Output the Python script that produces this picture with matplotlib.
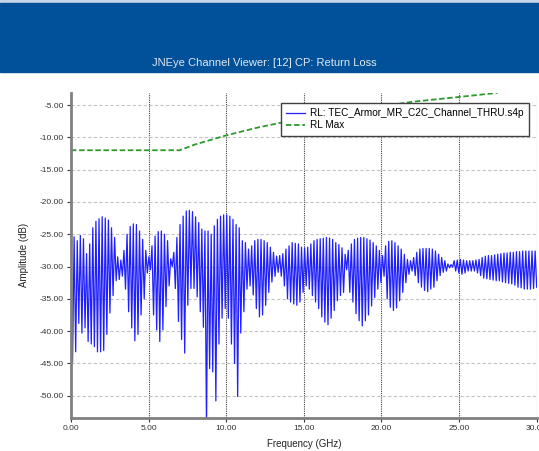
import numpy as np
import matplotlib
matplotlib.use("Agg")
import matplotlib.pyplot as plt
from matplotlib.patches import Rectangle
from matplotlib.ticker import FormatStrFormatter

plt.rcParams['font.family'] = ['Liberation Sans', 'DejaVu Sans']

# return loss trace, alternating peak / dip, 10 values per GHz
rl_db = [
    -25.8, -44.8, -25.4, -43.2, -26.0, -38.8, -25.2, -40.3, -25.7, -39.5,   # 0 GHz
    -28.0, -41.6, -26.5, -42.0, -24.0, -42.4, -23.0, -43.2, -22.6, -43.2,   # 1
    -22.3, -43.0, -22.5, -40.5, -22.8, -37.2, -24.0, -34.5, -25.5, -32.2,   # 2
    -28.5, -32.0, -29.0, -31.5, -27.5, -33.5, -25.0, -37.0, -23.8, -39.5,   # 3
    -23.4, -41.5, -23.5, -40.5, -24.5, -37.5, -25.8, -35.0, -27.5, -31.0,   # 4
    -28.5, -30.5, -26.8, -37.5, -25.3, -39.8, -24.6, -41.6, -24.5, -39.8,   # 5
    -25.0, -36.2, -26.0, -33.0, -28.8, -30.0, -27.8, -33.4, -25.5, -38.5,   # 6
    -23.5, -41.3, -22.2, -43.4, -21.4, -36.0, -21.3, -33.4, -21.5, -33.4,   # 7
    -22.3, -34.7, -23.2, -37.0, -24.2, -39.4, -24.5, -55.0, -24.5, -45.8,   # 8
    -25.0, -46.3, -23.7, -50.8, -22.7, -42.0, -22.2, -38.0, -22.0, -36.5,   # 9
    -22.0, -38.0, -22.2, -42.0, -22.7, -45.0, -23.5, -50.1, -24.0, -40.3,   # 10
    -26.0, -37.0, -26.3, -33.5, -27.3, -33.0, -26.8, -34.4, -26.0, -36.5,   # 11
    -25.8, -37.8, -25.8, -37.5, -26.0, -36.0, -26.3, -34.0, -27.0, -32.4,   # 12
    -27.8, -31.5, -28.4, -30.9, -28.3, -31.5, -28.0, -33.0, -27.3, -35.0,   # 13
    -26.8, -35.5, -26.3, -35.8, -26.4, -36.0, -26.5, -35.5, -27.0, -34.0,   # 14
    -27.1, -33.0, -27.0, -33.5, -26.5, -34.5, -26.0, -35.5, -25.8, -36.5,   # 15
    -25.7, -37.8, -25.6, -38.6, -25.5, -39.0, -25.6, -38.0, -25.8, -36.8,   # 16
    -26.3, -35.3, -26.6, -34.5, -27.1, -34.0, -28.1, -30.5, -27.5, -34.0,   # 17
    -26.5, -35.5, -25.8, -37.3, -25.6, -38.4, -25.5, -39.2, -25.5, -38.4,   # 18
    -25.7, -37.5, -25.9, -36.1, -26.3, -34.8, -26.8, -33.5, -27.5, -32.5,   # 19
    -28.3, -31.5, -26.8, -35.0, -26.1, -36.3, -26.0, -36.8, -26.3, -36.4,   # 20
    -26.8, -35.3, -27.3, -34.0, -28.1, -32.5, -28.9, -31.2, -29.1, -30.7,   # 21
    -28.6, -31.4, -27.8, -32.5, -27.3, -33.2, -27.2, -33.7, -27.2, -33.9,   # 22
    -27.2, -33.5, -27.3, -33.2, -27.6, -32.2, -28.1, -31.4, -28.6, -30.9,   # 23
    -29.1, -30.7, -29.6, -30.2, -29.7, -30.1, -29.1, -30.7, -29.0, -31.0,   # 24
    -28.9, -31.2, -29.0, -31.0, -29.1, -30.7, -29.1, -30.7, -29.1, -30.7,   # 25
    -29.0, -31.0, -28.9, -31.4, -28.6, -31.8, -28.4, -31.9, -28.3, -32.0,   # 26
    -28.3, -32.1, -28.2, -32.2, -28.1, -32.2, -28.0, -32.4, -27.9, -32.5,   # 27
    -27.9, -32.6, -27.8, -32.7, -27.8, -32.9, -27.7, -33.2, -27.7, -33.3,   # 28
    -27.6, -33.5, -27.6, -33.5, -27.6, -33.5, -27.6, -33.4, -27.6, -33.2,   # 29
]
rl_freq = np.linspace(0, 30, len(rl_db))   # sweep points in GHz

# return loss limit mask
rl_max_freq = [0, 7, 8, 9, 10, 12, 14, 16, 18, 20, 22, 24, 26, 27.5]
rl_max_db = [-12, -12, -11.1, -10.4, -9.7, -8.5, -7.5, -6.6, -5.8, -5.2, -4.5, -4.0, -3.5, -3.1]

x_ticks = [0, 5, 10, 15, 20, 25, 30]
y_ticks = [-5, -10, -15, -20, -25, -30, -35, -40, -45, -50]

W, H = 539, 451
fig = plt.figure(figsize=(W / 100, H / 100), dpi=100)

# window header band
fig.add_artist(Rectangle((0, (H - 3) / H), 1, 3 / H, transform=fig.transFigure,
                         color='#c6d6e8', zorder=0))
fig.add_artist(Rectangle((0, (H - 72) / H), 1, 69 / H, transform=fig.transFigure,
                         color='#00519a', zorder=0))
fig.text(264.5 / W, (H - 63.5) / H, "JNEye Channel Viewer: [12] CP: Return Loss",
         ha='center', va='center', color='#e4e8ee', fontsize=8)

ax = fig.add_axes([71 / W, (H - 417.7) / H, (536.7 - 71) / W, (417.7 - 93) / H])

ax.plot(rl_freq, rl_db, color='#1f1fff', lw=0.9,
        label="RL: TEC_Armor_MR_C2C_Channel_THRU.s4p")
ax.plot(rl_max_freq, rl_max_db, color='#2a9a2a', lw=1.3, ls=(0, (3, 1.5)),
        label="RL Max")

ax.set_xlim(0, 30)
ax.set_ylim(-53.4, -3.14)
ax.set_xticks(x_ticks)
ax.set_yticks(y_ticks)
ax.xaxis.set_major_formatter(FormatStrFormatter('%.2f'))
ax.yaxis.set_major_formatter(FormatStrFormatter('%.2f'))
ax.tick_params(labelsize=6, colors='#333333', length=3, width=0.8, pad=2)

# grid: dotted verticals, light dashed horizontals
ax.xaxis.grid(True, color='#404040', lw=0.8, ls=(0, (1, 1)))
ax.yaxis.grid(True, color='#c4c4c4', lw=0.8, ls=(0, (3, 2)))
ax.set_axisbelow(True)

for s in ['top', 'right']:
    ax.spines[s].set_visible(False)
for s in ['left', 'bottom']:
    ax.spines[s].set_color('#808080')
    ax.spines[s].set_linewidth(2)

ax.set_xlabel("Frequency (GHz)", fontsize=7, color='#222222', labelpad=5)
ax.set_ylabel("Amplitude (dB)", fontsize=7, color='#222222', labelpad=8)

leg = ax.legend(loc='upper right', bbox_to_anchor=(529 / W, (H - 103) / H),
                bbox_transform=fig.transFigure, fontsize=7.2, frameon=True,
                fancybox=False, handlelength=1.9, handletextpad=0.5,
                labelspacing=0.15, borderpad=0.55, borderaxespad=0)
leg.get_frame().set_edgecolor('#404040')
leg.get_frame().set_linewidth(1.0)
leg.get_frame().set_alpha(1)

fig.savefig("out.png", dpi=100)
